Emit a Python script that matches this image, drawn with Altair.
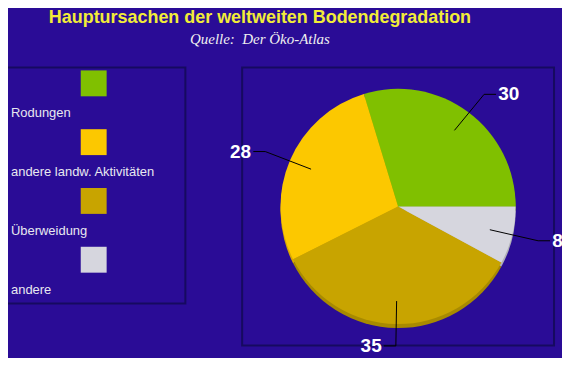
import math
import altair as alt
import pandas as pd

# ---- data ----
categories = ["Rodungen", "andere landw. Aktivitäten", "Überweidung", "andere"]
values = [30, 28, 35, 8]
colors = ["#80c000", "#fcc800", "#c8a400", "#d6d6de"]
rim_colors = ["#6a9e00", "#d8a800", "#a88a00", "#b0b0b8"]

title_text = "Hauptursachen der weltweiten Bodendegradation"
subtitle_text = "Quelle:\u00a0 Der Öko-Atlas"

df = pd.DataFrame({"cat": categories, "value": values, "idx": list(range(len(categories)))})

BG = "#2a0c96"
BOX = "#160a60"
FONT = "Liberation Sans"

PW, PH = 313, 279          # pie panel size
CX, CY = PW / 2, PH / 2    # arc centre (default view centre)
R = 118
R_IN, R_ELX, R_ELY = 95, 145, 140

cat_scale = alt.Scale(domain=categories, range=colors)

# ---- legend panel ----
leg_y = alt.Y("idx:Q", scale=alt.Scale(domain=[0, 3], range=[16, 193]), axis=None)
leg_base = alt.Chart(df).encode(y=leg_y)
squares = leg_base.mark_square(size=676, opacity=1, strokeWidth=0).encode(
    x=alt.value(93),
    color=alt.Color("cat:N", scale=cat_scale, legend=None),
)
leg_text = leg_base.mark_text(
    align="left", baseline="alphabetic", dy=34, font=FONT, fontSize=13, color="#e8e8f0"
).encode(x=alt.value(10), text="cat:N")
legend_panel = alt.layer(squares, leg_text).properties(width=185, height=237)

# ---- pie panel ----
theta_start = math.pi / 2
theta = alt.Theta("value:Q", stack=True,
                  scale=alt.Scale(range=[theta_start, theta_start + 2 * math.pi]))
order = alt.Order("idx:Q", sort="descending")

pie_base = alt.Chart(df)
rim = pie_base.mark_arc(radius=R, yOffset=4).encode(
    theta=theta, order=order,
    color=alt.Color("cat:N", scale=alt.Scale(domain=categories, range=rim_colors), legend=None),
)
arcs = pie_base.mark_arc(radius=R).encode(
    theta=theta, order=order,
    color=alt.Color("cat:N", scale=cat_scale, legend=None),
)

geo = (
    alt.Chart(df)
    .transform_joinaggregate(total="sum(value)")
    .transform_window(cum="sum(value)", sort=[alt.SortField("idx", order="descending")],
                      frame=[None, 0])
    .transform_calculate(
        a=f"{theta_start} + (datum.cum - datum.value/2) / datum.total * 2 * PI",
    )
    .transform_calculate(
        s="sin(datum.a) >= 0 ? 1 : -1",
        ex=f"{CX} + {R_ELX} * sin(datum.a)",
        ey=f"{CY} - {R_ELY} * cos(datum.a)",
    )
)

xs = alt.Scale(domain=[0, PW], range=[0, PW], nice=False, zero=False)
ys = alt.Scale(domain=[0, PH], range=[0, PH], nice=False, zero=False)

lines = (
    geo.transform_calculate(step="sequence(3)")
    .transform_flatten(["step"])
    .transform_calculate(
        px=f"datum.step == 0 ? {CX} + {R_IN} * sin(datum.a) : (datum.step == 1 ? datum.ex : datum.ex + datum.s * 12)",
        py=f"datum.step == 0 ? {CY} - {R_IN} * cos(datum.a) : datum.ey",
    )
    .mark_line(color="#000000", strokeWidth=1)
    .encode(
        x=alt.X("px:Q", scale=xs, axis=None),
        y=alt.Y("py:Q", scale=ys, axis=None),
        detail="cat:N",
        order="step:Q",
    )
)

labels = (
    geo.transform_calculate(
        lx="datum.ex + datum.s * (14 + length(toString(datum.value)) * 5.4)",
        label="toString(datum.value)",
    )
    .mark_text(font=FONT, fontSize=19, fontWeight="bold", color="#ffffff",
               align="center", baseline="middle")
    .encode(
        x=alt.X("lx:Q", scale=xs, axis=None),
        y=alt.Y("ey:Q", scale=ys, axis=None),
        text="label:N",
    )
)

pie_panel = (
    alt.layer(rim, arcs, lines, labels)
    .resolve_scale(color="independent")
    .properties(width=PW, height=PH)
)

chart = (
    alt.hconcat(legend_panel, pie_panel, spacing=57, bounds="flush")
    .properties(
        title=alt.TitleParams(
            text=title_text,
            subtitle=subtitle_text,
            anchor="middle",
            dx=-22,
            font=FONT,
            fontSize=18,
            fontWeight="bold",
            color="#f2ec38",
            subtitleFont="Liberation Serif",
            subtitleFontStyle="italic",
            subtitleFontSize=15,
            subtitleColor="#f0f0f0",
            subtitlePadding=5,
            offset=20,
        ),
        padding={"left": -8, "top": 0, "right": -2, "bottom": 0},
        background=BG,
    )
    .configure_view(stroke=BOX, strokeWidth=2)
)

chart.save("out.html", embed_options={"renderer": "svg", "actions": False})
